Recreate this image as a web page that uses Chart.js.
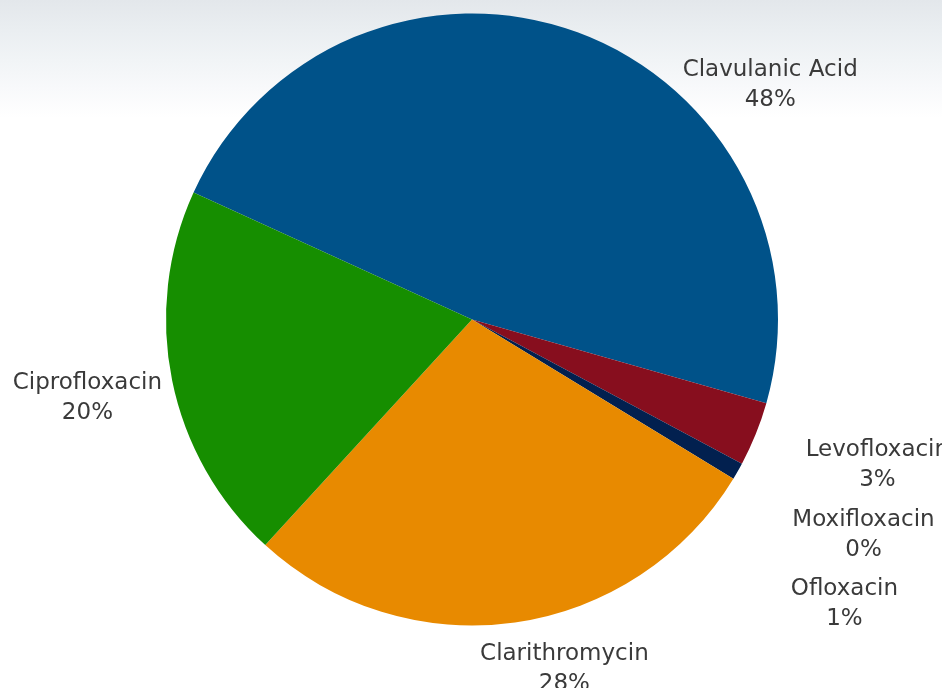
<!DOCTYPE html>
<html lang="en">
<head>
    <meta charset="UTF-8">
    <script src="https://cdn.jsdelivr.net/npm/chart.js"></script>
    <title>Antibiotic Share</title>
    <style>
        html, body { margin: 0; padding: 0; }
        body {
            width: 942px;
            height: 688px;
            overflow: hidden;
            background: linear-gradient(to bottom, #e3e7eb 0px, #eaeef1 30px, #f1f4f6 60px, #f8f9fb 88px, #ffffff 118px);
        }
        #wrap { position: relative; width: 942px; height: 688px; }
    </style>
</head>
<body>

<div id="wrap">
    <canvas id="drugChart"></canvas>
</div>

<script>
    // share of prescriptions per drug (percent)
    const drugs = ["Clavulanic Acid", "Levofloxacin", "Moxifloxacin", "Ofloxacin", "Clarithromycin", "Ciprofloxacin"];
    const shares = [47.6, 3.4, 0, 0.9, 28.1, 20.0];
    const sliceColors = ["#005289", "#870e1e", "#3a6fb0", "#02204f", "#e88a00", "#168e00"];

    // where each label sits: angle in degrees (clockwise from 3 o'clock) and distance in radii
    const labelAngle = [-38.2, 19.8, 28.8, 37.4, 75.2, 168.4];
    const labelDist = [1.240, 1.408, 1.460, 1.532, 1.182, 1.283];

    const outsideLabels = {
        id: "outsideLabels",
        afterDatasetsDraw(chart) {
            const ctx = chart.ctx;
            const arcs = chart.getDatasetMeta(0).data;
            const total = shares.reduce((a, b) => a + b, 0);
            ctx.save();
            ctx.font = "23px 'DejaVu Sans'";
            ctx.fillStyle = "#3a3a3a";
            ctx.textAlign = "center";
            ctx.textBaseline = "middle";
            arcs.forEach((arc, i) => {
                const a = labelAngle[i] * Math.PI / 180;
                const r = arc.outerRadius * labelDist[i];
                const x = arc.x + Math.cos(a) * r;
                const y = arc.y + Math.sin(a) * r;
                const pct = Math.round(shares[i] * 100 / total) + "%";
                ctx.fillText(drugs[i], x, y - 15);
                ctx.fillText(pct, x, y + 15);
            });
            ctx.restore();
        }
    };

    new Chart(document.getElementById("drugChart"), {
        type: "pie",
        data: {
            labels: drugs,
            datasets: [{
                data: shares,
                backgroundColor: sliceColors,
                borderWidth: 0
            }]
        },
        options: {
            responsive: true,
            maintainAspectRatio: false,
            animation: false,
            rotation: 294.5,
            layout: { padding: { top: 13.5, bottom: 62.5, left: 166, right: 164 } },
            plugins: {
                legend: { display: false },
                tooltip: { enabled: false }
            }
        },
        plugins: [outsideLabels]
    });
</script>

</body>
</html>
